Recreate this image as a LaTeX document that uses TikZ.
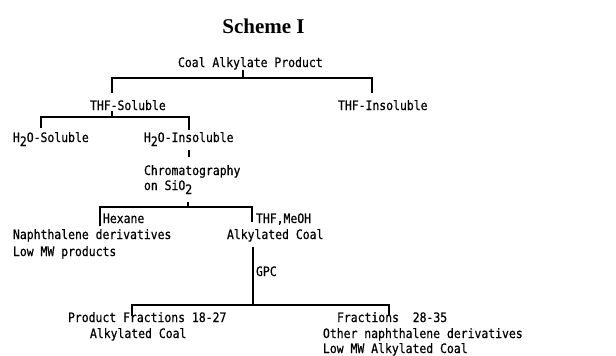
\documentclass[tikz,border=0pt]{standalone}
\usepackage{fontspec}
\newfontfamily\monofont[FakeStretch=0.88,FakeBold=0.6]{DejaVu Sans Mono}
\newfontfamily\titlefont{Liberation Serif}
\newcommand{\sbt}[1]{\raisebox{-4pt}{#1}}
\begin{document}
\begin{tikzpicture}[x=1pt,y=-1pt,
  txt/.style={anchor=base west,inner sep=0pt,outer sep=0pt,font=\monofont\fontsize{13}{15}\selectfont},
  ln/.style={line width=1.3pt,line cap=butt,line join=miter}]
\useasboundingbox (0,0) rectangle (616,356);
\node[anchor=base,inner sep=0pt,font=\titlefont\bfseries\fontsize{21}{24}\selectfont] (title) at (263.5,33) {Scheme I};
\node[txt] (cap) at (178,67) {Coal Alkylate Product};
\node[txt] (thfs) at (90,110) {THF-Soluble};
\node[txt] (thfi) at (338,110) {THF-Insoluble};
\node[txt] (h2os) at (13,142) {H\sbt{2}O-Soluble};
\node[txt] (h2oi) at (144,142) {H\sbt{2}O-Insoluble};
\node[txt] (chrom) at (144,175) {Chromatography};
\node[txt] (onsio) at (144,190) {on SiO\sbt{2}};
\node[txt] (hex) at (103,223) {Hexane};
\node[txt] (thfm) at (256,223) {THF,MeOH};
\node[txt] (naph) at (13,239) {Naphthalene derivatives};
\node[txt] (lowmw) at (13,256) {Low MW products};
\node[txt] (alk) at (227,239) {Alkylated Coal};
\node[txt] (gpc) at (256,276) {GPC};
\node[txt] (pf) at (68,322) {Product Fractions 18-27};
\node[txt] (alk2) at (90,338) {Alkylated Coal};
\node[txt] (fr) at (337,322) {Fractions\ \ 28-35};
\node[txt] (other) at (323,338) {Other naphthalene derivatives};
\node[txt] (low2) at (323,353) {Low MW Alkylated Coal};
% coordinates
\coordinate (t1a) at (243,70); \coordinate (t1b) at (243,78);
\coordinate (b1l) at (112,93); \coordinate (b1r) at (372,93);
\coordinate (t2a) at (112,111); \coordinate (t2b) at (112,117);
\coordinate (b2l) at (41,128); \coordinate (b2r) at (189,130);
\coordinate (t3a) at (189,150); \coordinate (t3b) at (189,157);
\coordinate (t4a) at (188,202); \coordinate (t4b) at (188,207);
\coordinate (b4l) at (100,226); \coordinate (b4r) at (252,222);
\coordinate (t5a) at (253,247); \coordinate (t5b) at (253,305);
\coordinate (b5l) at (132,316); \coordinate (b5r) at (389,315);
\draw[ln] (t1a) -- (t1b);
\draw[ln] (b1l) |- (t1b) -| (b1r);
\draw[ln] (t2a) -- (t2b);
\draw[ln] (b2l) |- (t2b) -| (b2r);
\draw[ln] (t3a) -- (t3b);
\draw[ln] (t4a) -- (t4b);
\draw[ln] (b4l) |- (t4b) -| (b4r);
\draw[ln] (t5a) -- (t5b);
\draw[ln] (b5l) |- (t5b) -| (b5r);
\end{tikzpicture}
\end{document}
